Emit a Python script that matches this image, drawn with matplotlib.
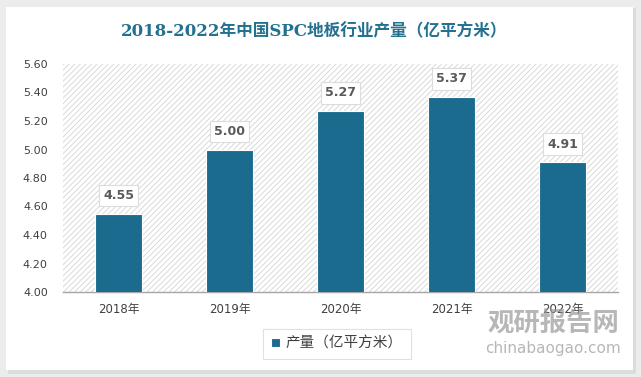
import matplotlib
matplotlib.use('Agg')
import matplotlib.pyplot as plt
from matplotlib.patches import Rectangle

# 数据
years = ['2018年', '2019年', '2020年', '2021年', '2022年']
output = [4.55, 5.00, 5.27, 5.37, 4.91]
yticks = [4.00, 4.20, 4.40, 4.60, 4.80, 5.00, 5.20, 5.40, 5.60]

plt.rcParams['font.family'] = ['DejaVu Sans', 'Noto Sans CJK SC']
plt.rcParams['hatch.linewidth'] = 0.6
plt.rcParams['hatch.color'] = '#d4d4d4'

bar_color = '#1b6b8f'
W, H = 641, 377

fig = plt.figure(figsize=(W / 100, H / 100), dpi=100)
fig.patch.set_facecolor('#ececec')

# 白色面板和阴影
fig.patches.append(Rectangle((8 / W, 3 / H), 628 / W, 366 / H, transform=fig.transFigure,
                             facecolor='#dcdcdc', edgecolor='none', zorder=-10))
fig.patches.append(Rectangle((6 / W, 7 / H), 627 / W, 363 / H, transform=fig.transFigure,
                             facecolor='white', edgecolor='none', zorder=-9))

ax = fig.add_axes([63 / W, (H - 292) / H, 555 / W, 228 / H])
ax.set_facecolor('none')

# 斜线背景
ax.add_patch(Rectangle((0, 0), 1, 1, transform=ax.transAxes, facecolor='white',
                       edgecolor='#d4d4d4', hatch='//////', linewidth=0, zorder=0))

x = range(len(years))
ax.bar(x, output, width=0.42, color=bar_color, edgecolor='white', linewidth=0.8, zorder=3,
       label='产量（亿平方米）')

for i, v in enumerate(output):
    ax.annotate(f'{v:.2f}', xy=(i, v), xytext=(0, 13), textcoords='offset points',
                ha='center', va='center', fontsize=9, fontweight='bold', color='#595959',
                zorder=5,
                bbox=dict(boxstyle='square,pad=0.35', facecolor='white', edgecolor='#dcdcdc',
                          linewidth=0.8))

ax.set_ylim(4.0, 5.6)
ax.set_xlim(-0.5, 4.5)
ax.set_yticks(yticks)
ax.set_yticklabels([f'{t:.2f}' for t in yticks], fontsize=8, color='#404040')
ax.set_xticks(list(x))
ax.set_xticklabels(years, fontsize=8.5, color='#404040')
ax.tick_params(axis='both', length=0)
ax.tick_params(axis='y', pad=11)
ax.tick_params(axis='x', pad=8)
for s in ['top', 'right', 'left']:
    ax.spines[s].set_visible(False)
ax.spines['bottom'].set_color('#a6a6a6')
ax.spines['bottom'].set_linewidth(1)

fig.text(314 / W, 1 - 32 / H, '2018-2022年中国SPC地板行业产量（亿平方米）',
         ha='center', va='center', fontsize=12, fontweight='bold', color='#23708f',
         family=['DejaVu Serif', 'Noto Sans CJK SC'])

leg = ax.legend(loc='center', bbox_to_anchor=(337 / W, 1 - 344 / H),
                bbox_transform=fig.transFigure, frameon=True, fancybox=False,
                handlelength=0.6, handleheight=0.6, handletextpad=0.4, borderpad=0.55,
                prop={'family': ['Noto Sans CJK SC'], 'size': 10.5})
leg.get_frame().set_edgecolor('#d9d9d9')
leg.get_frame().set_linewidth(0.8)
for t in leg.get_texts():
    t.set_color('#404040')

# 水印
fig.text(553 / W, 1 - 324 / H, '观研报告网', ha='center', va='center', fontsize=19,
         fontweight='bold', color='#999999', alpha=0.7, family=['Noto Sans CJK SC'])
fig.text(553 / W, 1 - 348 / H, 'chinabaogao.com', ha='center', va='center', fontsize=11,
         color='#999999', alpha=0.7)

plt.savefig('out.png', dpi=100, facecolor=fig.get_facecolor())
